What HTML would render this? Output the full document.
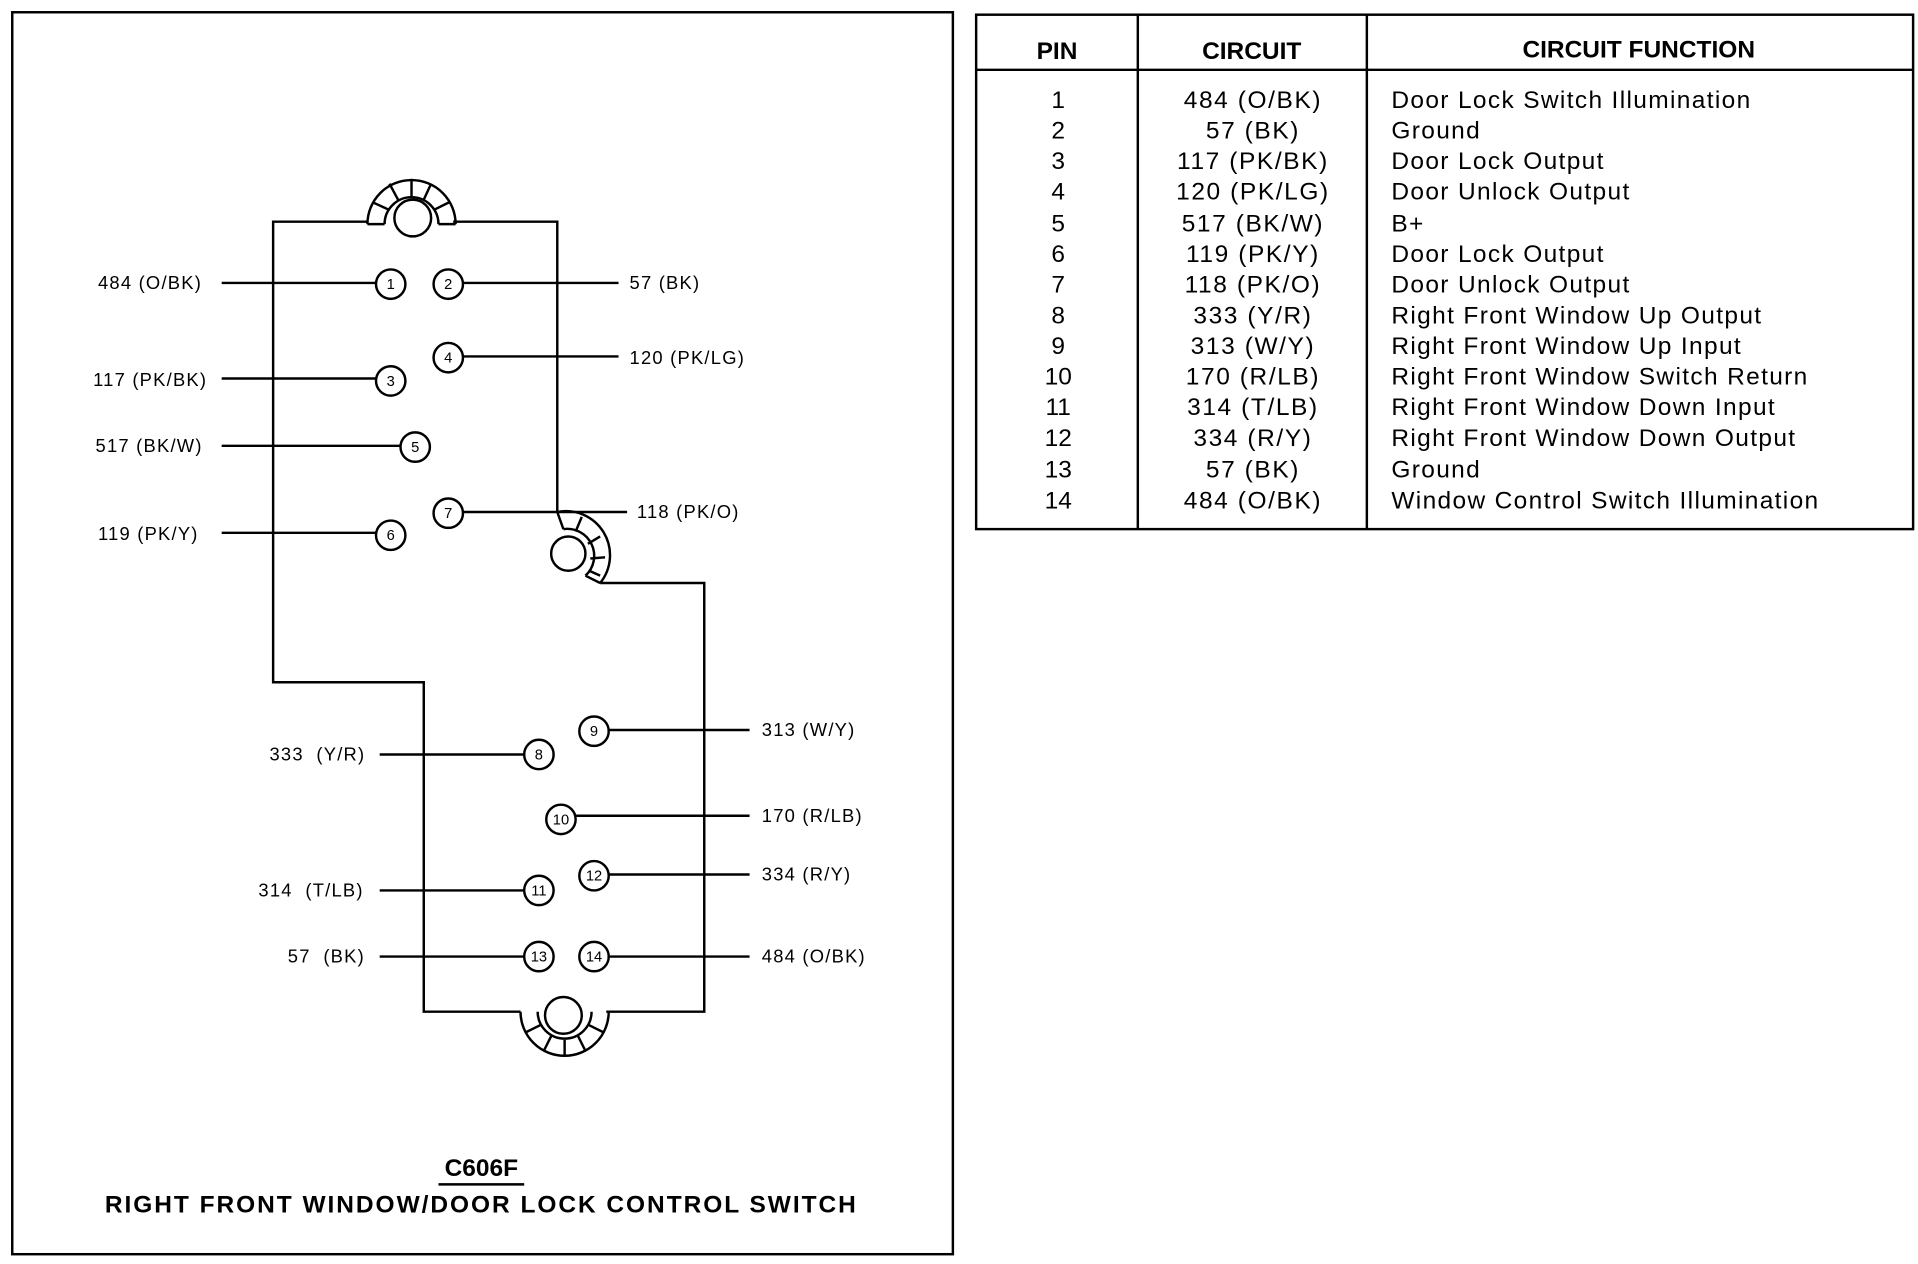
<!DOCTYPE html>
<html><head><meta charset="utf-8"><style>
html,body{margin:0;padding:0;background:#fff;}
svg{display:block;}
text{font-family:"Liberation Sans",Arial,sans-serif;fill:#000;}
</style></head><body>
<svg width="1918" height="1264" viewBox="0 0 1566 1032" preserveAspectRatio="none" xmlns="http://www.w3.org/2000/svg">
<rect x="0" y="0" width="1566" height="1032" fill="#fff"/>
<rect x="10" y="10" width="768" height="1014" fill="none" stroke="#000" stroke-width="2"/>
<path d="M300,181 L223,181 L223,557 L346,557 L346,826 L425,826 M495,826 L575,826 L575,476 L490,476 M455,418 L455,181 L370,181" fill="none" stroke="#000" stroke-width="2"/>
<g fill="none" stroke="#000" stroke-width="2">
<path d="M300,183 A36,36 0 0 1 372,183"/>
<path d="M314,183 A22,22 0 0 1 358,183"/>
<path d="M300,183 L314,183 M358,183 L372,183 M304,165 L317,171 M318,150 L325,163 M336,146 L336,160 M352,150 L346,163 M367,165 L355,171"/>
<circle cx="337" cy="178" r="15"/>
<path d="M455,418 A36,36 0 0 1 490,476"/>
<path d="M460,432 A22,22 0 0 1 478,470"/>
<path d="M455,418 L460,432 M490,476 L478,470 M475,422 L470,434 M490,438 L480,444 M494,455 L482,456 M490,470 L481,466"/>
<circle cx="464" cy="452" r="14"/>
<path d="M425,826 A36,36 0 0 0 497,826"/>
<path d="M439,826 A22,22 0 0 0 483,826"/>
<path d="M429,843 L441,837 M444,858 L450,846 M461,862 L461,849 M478,858 L472,846 M493,843 L481,837"/>
<circle cx="460" cy="829" r="15"/>
</g>
<g fill="#fff" stroke="#000" stroke-width="2">
<circle cx="319" cy="232" r="12"/><circle cx="366" cy="232" r="12"/>
<circle cx="366" cy="292" r="12"/><circle cx="319" cy="311" r="12"/>
<circle cx="339" cy="365" r="12"/><circle cx="366" cy="419" r="12"/>
<circle cx="319" cy="437" r="12"/><circle cx="485" cy="597" r="12"/>
<circle cx="440" cy="616" r="12"/><circle cx="458" cy="669" r="12"/>
<circle cx="485" cy="715" r="12"/><circle cx="440" cy="727" r="12"/>
<circle cx="440" cy="781" r="12"/><circle cx="485" cy="781" r="12"/>
</g>
<g font-size="12" text-anchor="middle">
<text x="319" y="236">1</text><text x="366" y="236">2</text>
<text x="366" y="296">4</text><text x="319" y="315">3</text>
<text x="339" y="369">5</text><text x="366" y="423">7</text>
<text x="319" y="441">6</text><text x="485" y="601">9</text>
<text x="440" y="620">8</text><text x="458" y="673">10</text>
<text x="485" y="719">12</text><text x="440" y="731">11</text>
<text x="440" y="785">13</text><text x="485" y="785">14</text>
</g>
<g stroke="#000" stroke-width="2">
<line x1="181" y1="231" x2="307" y2="231"/><line x1="378" y1="231" x2="505" y2="231"/>
<line x1="378" y1="291" x2="505" y2="291"/><line x1="181" y1="309" x2="307" y2="309"/>
<line x1="181" y1="364" x2="327" y2="364"/><line x1="378" y1="418" x2="512" y2="418"/>
<line x1="181" y1="435" x2="307" y2="435"/><line x1="497" y1="596" x2="612" y2="596"/>
<line x1="310" y1="616" x2="428" y2="616"/><line x1="470" y1="666" x2="612" y2="666"/>
<line x1="497" y1="714" x2="612" y2="714"/><line x1="310" y1="727" x2="428" y2="727"/>
<line x1="310" y1="781" x2="428" y2="781"/><line x1="497" y1="781" x2="612" y2="781"/>
</g>
<g font-size="15" letter-spacing="1">
<text x="80" y="236">484 (O/BK)</text><text x="514" y="236">57 (BK)</text>
<text x="514" y="297">120 (PK/LG)</text><text x="76" y="315">117 (PK/BK)</text>
<text x="78" y="369">517 (BK/W)</text><text x="520" y="423">118 (PK/O)</text>
<text x="80" y="441">119 (PK/Y)</text><text x="622" y="601">313 (W/Y)</text>
<text x="220" y="621">333&#160;&#160;(Y/R)</text><text x="622" y="671">170 (R/LB)</text>
<text x="622" y="719">334 (R/Y)</text><text x="211" y="732">314&#160;&#160;(T/LB)</text>
<text x="235" y="786">57&#160;&#160;(BK)</text><text x="622" y="786">484 (O/BK)</text>
</g>
<text x="393" y="960" font-size="20" font-weight="bold" text-anchor="middle">C606F</text>
<line x1="358" y1="967" x2="428" y2="967" stroke="#000" stroke-width="2"/>
<text x="393" y="990" font-size="20" font-weight="bold" text-anchor="middle" letter-spacing="1.6">RIGHT FRONT WINDOW/DOOR LOCK CONTROL SWITCH</text>
<rect x="797" y="12" width="765" height="420" fill="none" stroke="#000" stroke-width="2"/>
<line x1="797" y1="57" x2="1562" y2="57" stroke="#000" stroke-width="2"/>
<line x1="929" y1="12" x2="929" y2="432" stroke="#000" stroke-width="2"/>
<line x1="1116" y1="12" x2="1116" y2="432" stroke="#000" stroke-width="2"/>
<g font-size="20" font-weight="bold" text-anchor="middle">
<text x="863" y="48">PIN</text><text x="1022" y="48">CIRCUIT</text><text x="1338" y="47">CIRCUIT FUNCTION</text>
</g>
<g font-size="20">
<g text-anchor="middle">
<text x="864" y="88">1</text><text x="864" y="113">2</text><text x="864" y="138">3</text><text x="864" y="163">4</text>
<text x="864" y="189">5</text><text x="864" y="214">6</text><text x="864" y="239">7</text><text x="864" y="264">8</text>
<text x="864" y="289">9</text><text x="864" y="314">10</text><text x="864" y="339">11</text><text x="864" y="364">12</text>
<text x="864" y="390">13</text><text x="864" y="415">14</text>
</g>
<g text-anchor="middle" letter-spacing="1.3">
<text x="1023" y="88">484 (O/BK)</text><text x="1023" y="113">57 (BK)</text><text x="1023" y="138">117 (PK/BK)</text>
<text x="1023" y="163">120 (PK/LG)</text><text x="1023" y="189">517 (BK/W)</text><text x="1023" y="214">119 (PK/Y)</text>
<text x="1023" y="239">118 (PK/O)</text><text x="1023" y="264">333 (Y/R)</text><text x="1023" y="289">313 (W/Y)</text>
<text x="1023" y="314">170 (R/LB)</text><text x="1023" y="339">314 (T/LB)</text><text x="1023" y="364">334 (R/Y)</text>
<text x="1023" y="390">57 (BK)</text><text x="1023" y="415">484 (O/BK)</text>
</g>
<g letter-spacing="1.1">
<text x="1136" y="88">Door Lock Switch Illumination</text><text x="1136" y="113">Ground</text>
<text x="1136" y="138">Door Lock Output</text><text x="1136" y="163">Door Unlock Output</text>
<text x="1136" y="189">B+</text><text x="1136" y="214">Door Lock Output</text>
<text x="1136" y="239">Door Unlock Output</text><text x="1136" y="264">Right Front Window Up Output</text>
<text x="1136" y="289">Right Front Window Up Input</text><text x="1136" y="314">Right Front Window Switch Return</text>
<text x="1136" y="339">Right Front Window Down Input</text><text x="1136" y="364">Right Front Window Down Output</text>
<text x="1136" y="390">Ground</text><text x="1136" y="415">Window Control Switch Illumination</text>
</g>
</g>
</svg>
</body></html>
